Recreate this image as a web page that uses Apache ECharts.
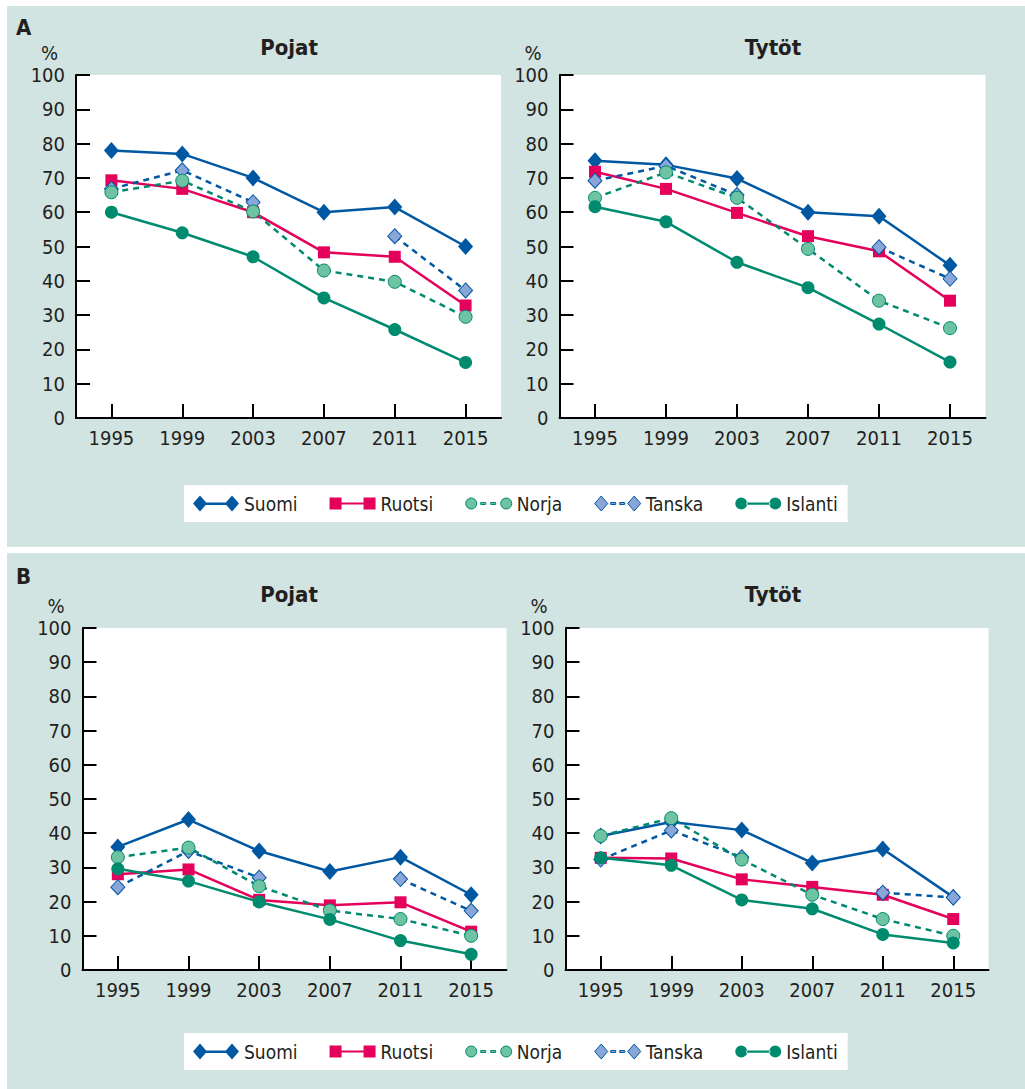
<!DOCTYPE html>
<html>
<head>
<meta charset="utf-8">
<script src="https://cdn.jsdelivr.net/npm/echarts@6/dist/echarts.min.js"></script>
<style>
  html, body { margin: 0; padding: 0; background: #ffffff; }
  #wrap { position: relative; width: 1025px; height: 1089px; }
  .panel { position: absolute; background: #d1e4e1; }
  #chart { position: absolute; left: 0; top: 0; width: 1025px; height: 1089px; }
</style>
</head>
<body>
<div id="wrap">
  <div class="panel" style="left:7px; top:6px; width:1018px; height:541px;"></div>
  <div class="panel" style="left:7px; top:553px; width:1018px; height:536px;"></div>
  <div id="chart"></div>
</div>
<script>
// ---------- data ----------
const years = ['1995', '1999', '2003', '2007', '2011', '2015'];
const seriesNames = ['Suomi', 'Ruotsi', 'Norja', 'Tanska', 'Islanti'];
const panelTitles = ['Pojat', 'Tytöt'];
const sectionLetters = ['A', 'B'];

// A – Pojat
const suomiAP   = [78, 77, 70, 60, 61.5, 50];
const ruotsiAP  = [69.3, 66.8, 60, 48.3, 47, 32.8];
const norjaAP   = [65.8, 69.2, 60.2, 43, 39.7, 29.5];
const tanskaAP  = [66.8, 72.2, 62.9, null, 53, 37.2];
const islantiAP = [60, 54, 47, 35, 25.8, 16.2];
// A – Tytöt
const suomiAT   = [75, 73.8, 69.8, 60, 58.8, 44.5];
const ruotsiAT  = [71.8, 66.8, 59.8, 53, 48.6, 34.2];
const norjaAT   = [64.2, 71.6, 64.2, 49.3, 34.2, 26.2];
const tanskaAT  = [69.2, 73.5, 65, null, 49.8, 40.6];
const islantiAT = [61.6, 57.2, 45.4, 38, 27.4, 16.3];
// B – Pojat
const suomiBP   = [36, 44, 34.8, 28.8, 33, 22];
const ruotsiBP  = [28, 29.4, 20.5, 18.9, 19.8, 11.2];
const norjaBP   = [33, 35.8, 24.5, 17.4, 14.9, 10];
const tanskaBP  = [24.2, 34.8, 27, null, 26.6, 17.3];
const islantiBP = [29.6, 26, 19.9, 14.8, 8.6, 4.6];
// B – Tytöt
const suomiBT   = [39.2, 43.3, 40.9, 31.3, 35.4, 21.3];
const ruotsiBT  = [32.8, 32.6, 26.5, 24.3, 22, 14.9];
const norjaBT   = [39.2, 44.4, 32.3, 22, 14.9, 10];
const tanskaBT  = [32.3, 40.8, 33, null, 22.6, 21.2];
const islantiBT = [32.8, 30.6, 20.5, 17.9, 10.4, 7.9];

// ---------- styles ----------
const FONT = '"Liberation Sans Narrow", "DejaVu Sans Condensed", "Roboto Condensed", sans-serif';
const TXT = '#231f20';
const C_SUOMI = '#0058a3';
const C_RUOTSI = '#e4005b';
const C_NORJA_L = '#00896f';
const C_NORJA_F = '#6dc3a2';
const C_TANSKA_L = '#0058a3';
const C_TANSKA_F = '#8aa5d8';
const C_ISLANTI = '#008b6f';

const panelData = [
  { suomi: suomiAP, ruotsi: ruotsiAP, norja: norjaAP, tanska: tanskaAP, islanti: islantiAP },
  { suomi: suomiAT, ruotsi: ruotsiAT, norja: norjaAT, tanska: tanskaAT, islanti: islantiAT },
  { suomi: suomiBP, ruotsi: ruotsiBP, norja: norjaBP, tanska: tanskaBP, islanti: islantiBP },
  { suomi: suomiBT, ruotsi: ruotsiBT, norja: norjaBT, tanska: tanskaBT, islanti: islantiBT }
];

const grids = [
  { left: 76,  top: 75,  width: 425, height: 343 },
  { left: 559.5, top: 75,  width: 426, height: 343 },
  { left: 82.5, top: 628, width: 424, height: 342 },
  { left: 565.5, top: 628, width: 423, height: 342 }
];

const gridOpts = grids.map(g => Object.assign({ show: true, backgroundColor: '#ffffff', borderWidth: 0, containLabel: false }, g));

const xAxes = grids.map((g, i) => ({
  type: 'category', gridIndex: i, data: years, boundaryGap: true,
  axisLine: { lineStyle: { color: '#000', width: 2 } },
  axisTick: { show: true, inside: true, length: 14, alignWithLabel: true, interval: 0, lineStyle: { color: '#000', width: 2 } },
  axisLabel: { color: TXT, fontFamily: FONT, fontSize: 20, margin: 10, interval: 0 },
  splitLine: { show: false }
}));

const yAxes = grids.map((g, i) => ({
  type: 'value', gridIndex: i, min: 0, max: 100, interval: 10,
  name: '%', nameLocation: 'end', nameGap: 12,
  nameTextStyle: { color: TXT, fontFamily: FONT, fontSize: 20, align: 'right', padding: [0, 18, 0, 0] },
  axisLine: { show: true, lineStyle: { color: '#000', width: 2 } },
  axisTick: { show: true, inside: true, length: 14, lineStyle: { color: '#000', width: 2 } },
  axisLabel: { color: TXT, fontFamily: FONT, fontSize: 20, margin: 11 },
  splitLine: { show: false }
}));

function mkSeries(i) {
  const d = panelData[i];
  const base = { type: 'line', xAxisIndex: i, yAxisIndex: i, connectNulls: false, emphasis: { disabled: true }, silent: true };
  return [
    Object.assign({}, base, { name: 'Suomi', data: d.suomi, symbol: 'diamond', symbolSize: [15, 17],
      itemStyle: { color: C_SUOMI }, lineStyle: { color: C_SUOMI, width: 2.5 } }),
    Object.assign({}, base, { name: 'Ruotsi', data: d.ruotsi, symbol: 'rect', symbolSize: 12,
      itemStyle: { color: C_RUOTSI }, lineStyle: { color: C_RUOTSI, width: 2.5 } }),
    Object.assign({}, base, { name: 'Tanska', data: d.tanska, symbol: 'diamond', symbolSize: [14, 15],
      itemStyle: { color: C_TANSKA_F, borderColor: C_TANSKA_L, borderWidth: 1 },
      lineStyle: { color: C_TANSKA_L, width: 2.5, type: [6, 5] } }),
    Object.assign({}, base, { name: 'Norja', data: d.norja, symbol: 'circle', symbolSize: 13,
      itemStyle: { color: C_NORJA_F, borderColor: C_NORJA_L, borderWidth: 1 },
      lineStyle: { color: C_NORJA_L, width: 2.5, type: [6, 5] } }),
    Object.assign({}, base, { name: 'Islanti', data: d.islanti, symbol: 'circle', symbolSize: 13,
      itemStyle: { color: C_ISLANTI }, lineStyle: { color: C_ISLANTI, width: 2.5 } })
  ];
}

const series = [].concat(mkSeries(0), mkSeries(1), mkSeries(2), mkSeries(3));

// legend icons: symbol-line-symbol
const ICON_SUOMI = 'path://M0 8 L7 0 L14 8 L7 16 Z M12 7 L34 7 L34 9.5 L12 9.5 Z M32 8 L39 0 L46 8 L39 16 Z';
const ICON_RUOTSI = 'path://M0 2 L12 2 L12 14 L0 14 Z M11 7 L35 7 L35 9 L11 9 Z M34 2 L46 2 L46 14 L34 14 Z';
const ICON_NORJA = 'path://M0 8 A5.5 5.5 0 1 0 11 8 A5.5 5.5 0 1 0 0 8 Z M15 7 L20 7 L20 9 L15 9 Z M25 7 L30 7 L30 9 L25 9 Z M35 8 A5.5 5.5 0 1 0 46 8 A5.5 5.5 0 1 0 35 8 Z';
const ICON_TANSKA = 'path://M0 8 L6.5 0.5 L13 8 L6.5 15.5 Z M16 7 L21 7 L21 9 L16 9 Z M25 7 L30 7 L30 9 L25 9 Z M33 8 L39.5 0.5 L46 8 L39.5 15.5 Z';
const ICON_ISLANTI = 'path://M0 8 A6 6 0 1 0 12 8 A6 6 0 1 0 0 8 Z M11 7 L35 7 L35 9.2 L11 9.2 Z M34 8 A6 6 0 1 0 46 8 A6 6 0 1 0 34 8 Z';

const legendData = [
  { name: 'Suomi', icon: ICON_SUOMI, itemStyle: { color: C_SUOMI, borderWidth: 0 } },
  { name: 'Ruotsi', icon: ICON_RUOTSI, itemStyle: { color: C_RUOTSI, borderWidth: 0 } },
  { name: 'Norja', icon: ICON_NORJA, itemStyle: { color: C_NORJA_F, borderColor: C_NORJA_L, borderWidth: 1 } },
  { name: 'Tanska', icon: ICON_TANSKA, itemStyle: { color: C_TANSKA_F, borderColor: C_TANSKA_L, borderWidth: 1 } },
  { name: 'Islanti', icon: ICON_ISLANTI, itemStyle: { color: C_ISLANTI, borderWidth: 0 } }
];

function mkLegend(top) {
  return {
    top: top, left: 184, orient: 'horizontal', selectedMode: false,
    backgroundColor: '#ffffff', padding: [9, 10, 9, 9], itemGap: 32,
    itemWidth: 46, itemHeight: 16, symbolKeepAspect: true,
    textStyle: { color: TXT, fontFamily: FONT, fontSize: 19 },
    data: legendData
  };
}

const titleStyle = { color: TXT, fontFamily: FONT, fontWeight: 'bold' };
const titles = [
  { text: sectionLetters[0], left: 16, top: 16, padding: 0, textStyle: Object.assign({ fontSize: 22 }, titleStyle) },
  { text: sectionLetters[1], left: 16, top: 565, padding: 0, textStyle: Object.assign({ fontSize: 22 }, titleStyle) },
  { text: panelTitles[0], left: 289, top: 36, padding: 0, textAlign: 'center', textStyle: Object.assign({ fontSize: 22 }, titleStyle) },
  { text: panelTitles[1], left: 773, top: 36, padding: 0, textAlign: 'center', textStyle: Object.assign({ fontSize: 22 }, titleStyle) },
  { text: panelTitles[0], left: 289, top: 583, padding: 0, textAlign: 'center', textStyle: Object.assign({ fontSize: 22 }, titleStyle) },
  { text: panelTitles[1], left: 773, top: 583, padding: 0, textAlign: 'center', textStyle: Object.assign({ fontSize: 22 }, titleStyle) }
];

const chart = echarts.init(document.getElementById('chart'), null, { renderer: 'svg', width: 1025, height: 1089 });
chart.setOption({
  backgroundColor: 'transparent',
  animation: false,
  title: titles,
  legend: [mkLegend(485), mkLegend(1033)],
  tooltip: { show: false },
  grid: gridOpts,
  xAxis: xAxes,
  yAxis: yAxes,
  series: series
});
</script>
</body>
</html>
